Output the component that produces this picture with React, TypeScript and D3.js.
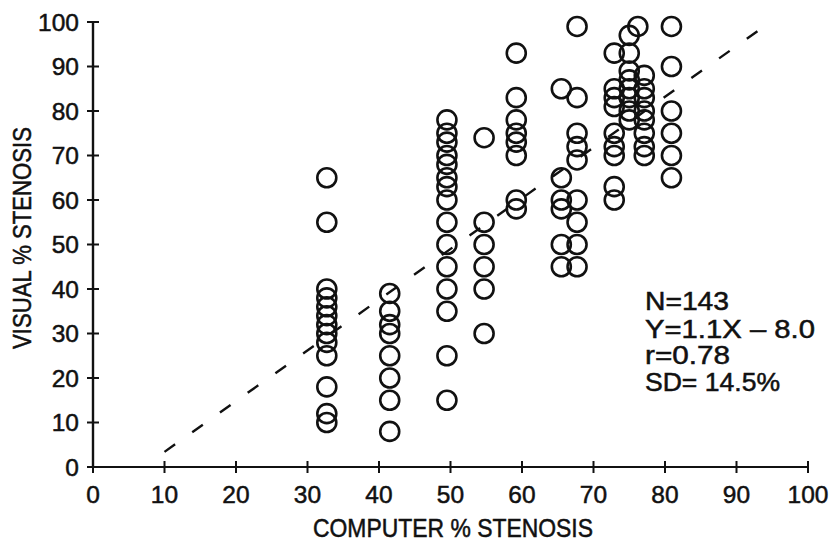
import React from "react";
import * as d3 from "d3";

// Computer-measured stenosis (%) for each vertical group of readings
const computerPct = [32.7, 41.5, 49.5, 54.7, 59.2, 65.5, 67.7, 72.9, 75.0, 76.2, 77.1, 80.9];

// Visually graded stenosis (%) recorded at each computer value above
const visualPct = [
  [65, 55, 40, 38, 36, 34, 32, 30, 28, 25, 18, 12, 10],
  [39, 35, 32, 30, 25, 20, 15, 8],
  [78, 75, 73, 70, 68, 65, 63, 60, 55, 50, 45, 40, 35, 25, 15],
  [74, 55, 50, 45, 40, 30],
  [93, 83, 78, 75, 73, 70, 60, 58],
  [85, 65, 60, 58, 50, 45],
  [99, 83, 75, 72, 69, 60, 55, 50, 45],
  [93, 85, 83, 81, 75, 72, 70, 63, 60],
  [97, 93, 89, 87, 85, 83, 80, 78],
  [99],
  [88, 85, 83, 80, 78, 75, 72, 70],
  [99, 90, 80, 75, 70, 65],
];

const xTicks = [0, 10, 20, 30, 40, 50, 60, 70, 80, 90, 100];
const yTicks = [0, 10, 20, 30, 40, 50, 60, 70, 80, 90, 100];

// Regression fit shown as a dashed line
const slope = 1.14;
const intercept = -8.0;
const fitRange = [10, 93];

const statLines = [
  "N=143",
  `Y=${slope.toFixed(1)}X – ${Math.abs(intercept).toFixed(1)}`,
  "r=0.78",
  "SD= 14.5%",
];
const statWidths = [84, 170, 85, 135];

const W = 835;
const H = 542;
const FONT = "'Liberation Sans', Arial, sans-serif";
const INK = "#111";

export default function App() {
  const x = d3.scaleLinear().domain([0, 100]).range([93, 808]);
  const y = d3.scaleLinear().domain([0, 100]).range([467, 22]);

  const points = computerPct.flatMap((cx, i) =>
    visualPct[i].map((v) => ({ cx, v }))
  );

  const fitLine = d3
    .line<number>()
    .x((d) => x(d))
    .y((d) => y(slope * d + intercept));

  const textInk = { fill: INK, stroke: INK, strokeWidth: 0.5 };

  return (
    <svg
      width={W}
      height={H}
      style={{ position: "absolute", left: 0, top: 0, background: "#fff" }}
      fontFamily={FONT}
    >
      <rect width={W} height={H} fill="#fff" />

      {/* axes */}
      <line x1={x(0)} x2={x(0)} y1={y(100)} y2={y(0)} stroke={INK} strokeWidth={2.4} />
      <line x1={x(0)} x2={x(100)} y1={y(0)} y2={y(0)} stroke={INK} strokeWidth={2.2} />

      {yTicks.map((t) => (
        <g key={"y" + t}>
          <line x1={x(0) - 6} x2={x(0) + 6} y1={y(t)} y2={y(t)} stroke={INK} strokeWidth={2} />
          <text x={79} y={y(t) + 8.5} textAnchor="end" fontSize={24.5} {...textInk}>
            {t}
          </text>
        </g>
      ))}

      {xTicks.map((t) => (
        <g key={"x" + t}>
          <line x1={x(t)} x2={x(t)} y1={y(0) - 6} y2={y(0) + 6} stroke={INK} strokeWidth={2} />
          <text x={x(t)} y={503} textAnchor="middle" fontSize={24.5} {...textInk}>
            {t}
          </text>
        </g>
      ))}

      {/* axis titles */}
      <text
        x={453}
        y={537}
        textAnchor="middle"
        fontSize={25}
        textLength={280}
        lengthAdjust="spacingAndGlyphs"
        {...textInk}
      >
        COMPUTER % STENOSIS
      </text>
      <text
        transform={`translate(31, 238) rotate(-90)`}
        textAnchor="middle"
        fontSize={25}
        textLength={222}
        lengthAdjust="spacingAndGlyphs"
        {...textInk}
      >
        VISUAL % STENOSIS
      </text>

      {/* regression line */}
      <path
        d={fitLine(fitRange) ?? ""}
        fill="none"
        stroke={INK}
        strokeWidth={2.4}
        strokeDasharray="13 21"
      />

      {/* observations */}
      {points.map((p, i) => (
        <circle
          key={i}
          cx={x(p.cx)}
          cy={y(p.v)}
          r={9.5}
          fill="none"
          stroke={INK}
          strokeWidth={2.6}
        />
      ))}

      {/* fit statistics */}
      {statLines.map((s, i) => (
        <text
          key={s}
          x={645}
          y={[310, 338, 364, 391][i]}
          fontSize={25}
          textLength={statWidths[i]}
          lengthAdjust="spacingAndGlyphs"
          {...textInk}
        >
          {s}
        </text>
      ))}
    </svg>
  );
}
